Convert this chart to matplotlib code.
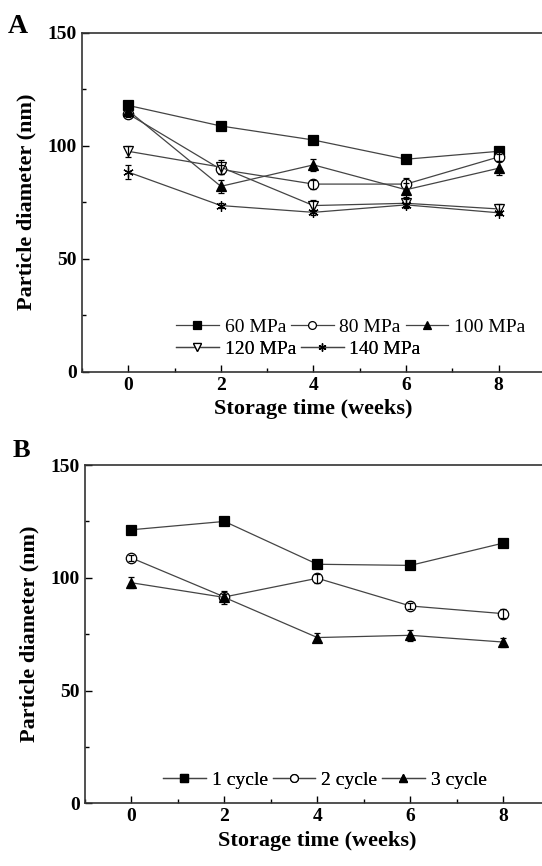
import matplotlib
matplotlib.use("Agg")
import matplotlib.pyplot as plt
from matplotlib.ticker import MultipleLocator

plt.rcParams['font.family'] = ['Liberation Serif', 'DejaVu Serif']

weeks = [0, 2, 4, 6, 8]

# panel A: pressure
labels_a = ['60 MPa', '80 MPa', '100 MPa', '120 MPa', '140 MPa']
mpa60 = [117.8, 108.7, 102.5, 94.0, 97.5]
mpa80 = [114.0, 89.5, 83.0, 83.0, 95.0]
mpa100 = [115.5, 82.0, 91.5, 80.5, 90.0]
mpa120 = [97.5, 90.5, 73.5, 74.5, 72.0]
mpa140 = [88.3, 73.5, 70.5, 73.8, 70.3]
err_a = [
    [1.5, 1.0, 1.0, 1.0, 1.0],
    [1.5, 2.0, 2.0, 2.5, 2.0],
    [2.0, 3.0, 2.5, 3.0, 3.0],
    [2.5, 3.0, 2.5, 2.0, 2.0],
    [3.0, 1.0, 1.0, 1.0, 1.0],
]

# panel B: homogenization cycles
labels_b = ['1 cycle', '2 cycle', '3 cycle']
cyc1 = [121.3, 125.0, 106.0, 105.5, 115.4]
cyc2 = [108.8, 91.5, 99.8, 87.5, 84.1]
cyc3 = [97.8, 91.3, 73.5, 74.5, 71.5]
err_b = [
    [1.0, 1.0, 1.0, 1.0, 1.0],
    [1.5, 1.5, 2.0, 1.5, 2.0],
    [2.5, 3.0, 2.0, 2.5, 2.0],
]

styles_a = [
    dict(marker='s', mfc='black'),
    dict(marker='o', mfc='white'),
    dict(marker='^', mfc='black'),
    dict(marker='v', mfc='white'),
    dict(marker=(6, 2, 0), mfc='black'),
]
styles_b = styles_a[:3]

fig = plt.figure(figsize=(5.42, 8.66), dpi=100)
axA = fig.add_axes([0.1513, 0.5708, 0.854, 0.3915])
axB = fig.add_axes([0.1568, 0.0724, 0.8576, 0.3906])


def legend_row(ax, handles, labels, x, y):
    # one legend per row, like the Origin legend where rows are not column aligned
    leg = ax.legend(handles, labels, ncol=len(handles), frameon=False, fontsize=14,
                    loc='center left', bbox_to_anchor=(x, y), handlelength=2.2,
                    handletextpad=0.3, columnspacing=0.25, borderaxespad=0,
                    borderpad=0, markerscale=0.75)
    ax.add_artist(leg)


def draw(ax, series, labels, errs, styles, rows):
    hs = []
    for ys, lab, e, st in zip(series, labels, errs, styles):
        c = ax.errorbar(weeks, ys, yerr=e, color='#444444', lw=0.9,
                        marker=st['marker'], mfc=st['mfc'], mec='black',
                        mew=0.9, ms=7.5, ecolor='black', elinewidth=0.9,
                        capsize=2.5, capthick=0.9, barsabove=True, label=lab)
        hs.append(c[0])
    ax.set_xlim(-1, 9)
    ax.set_ylim(0, 150)
    ax.set_xticks(weeks)
    ax.xaxis.set_minor_locator(MultipleLocator(1))
    ax.yaxis.set_major_locator(MultipleLocator(50))
    ax.yaxis.set_minor_locator(MultipleLocator(25))
    ax.tick_params(which='both', direction='in', labelsize=14, width=1)
    ax.tick_params(which='major', length=5)
    ax.tick_params(which='minor', length=3)
    for t in ax.get_xticklabels() + ax.get_yticklabels():
        t.set_fontweight('bold')
    for sp in ax.spines.values():
        sp.set_linewidth(1.2)
        sp.set_color('#333333')
    ax.set_xlabel('Storage time (weeks)', fontsize=16, fontweight='bold', labelpad=4)
    ax.set_ylabel('Particle diameter (nm)', fontsize=16, fontweight='bold', labelpad=8)
    for idx, x, y in rows:
        legend_row(ax, [hs[i] for i in idx], [labels[i] for i in idx], x, y)


draw(axA, [mpa60, mpa80, mpa100, mpa120, mpa140], labels_a, err_a, styles_a,
     [([0, 1, 2], 0.203, 0.132), ([3, 4], 0.203, 0.066)])
draw(axB, [cyc1, cyc2, cyc3], labels_b, err_b, styles_b,
     [([0, 1, 2], 0.168, 0.069)])

fig.text(0.015, 0.962, 'A', fontsize=20, fontweight='bold')
fig.text(0.024, 0.472, 'B', fontsize=19, fontweight='bold')

fig.savefig('out.png', dpi=100)
